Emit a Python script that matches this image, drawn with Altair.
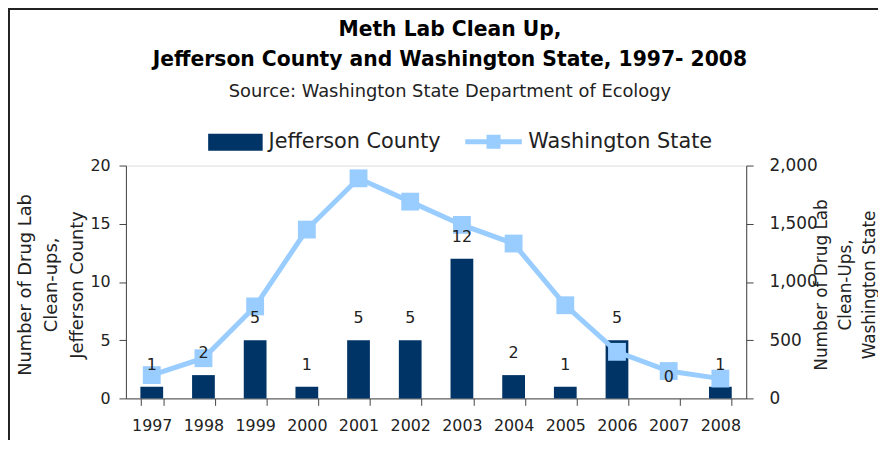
import altair as alt
import pandas as pd

years = ["1997", "1998", "1999", "2000", "2001", "2002", "2003", "2004", "2005", "2006", "2007", "2008"]
jefferson = [1, 2, 5, 1, 5, 5, 12, 2, 1, 5, 0, 1]
washington = [200, 345, 790, 1450, 1890, 1690, 1490, 1330, 800, 400, 235, 170]

df = pd.DataFrame({
    "year": years,
    "jefferson": jefferson,
    "washington": washington,
    "jc": "Jefferson County",
    "ws": "Washington State",
})

FONT = "DejaVu Sans"
BAR = "#003366"
LINE = "#99CCFF"
TXT = "#222222"

x = alt.X(
    "year:O",
    scale=alt.Scale(paddingInner=0.56, paddingOuter=0.28),
    axis=alt.Axis(title=None, labelAngle=0, tickBand="extent", tickSize=7, labelPadding=12,
                  labelFontSize=16, labelFont=FONT, labelColor=TXT,
                  domainColor="#444", tickColor="#444"),
)

base = alt.Chart(df)

bars = base.mark_bar().encode(
    x=x,
    y=alt.Y("jefferson:Q", scale=alt.Scale(domain=[0, 20]),
            axis=alt.Axis(orient="left", values=[0, 5, 10, 15, 20], grid=False, tickSize=7,
                          labelPadding=9, labelFontSize=16, labelFont=FONT, labelColor=TXT,
                          domainColor="#444", tickColor="#444",
                          title=["Number of Drug Lab", "Clean-ups,", "Jefferson County"],
                          titleFont=FONT, titleFontSize=18, titleFontWeight="normal", titleColor=TXT,
                          titleLineHeight=26, titleAngle=-90, titleBaseline="top", titleAlign="center",
                          titleX=-110, titleY=120)),
    fill=alt.Fill("jc:N", scale=alt.Scale(range=[BAR]),
                  legend=alt.Legend(orient="none", legendX=83, legendY=-51, title=None,
                                    symbolType="M-1,-0.31L1,-0.31L1,0.31L-1,0.31Z", symbolSize=3025,
                                    symbolStrokeWidth=0, labelFontSize=21, labelFont=FONT,
                                    labelColor=TXT, labelOffset=6, labelLimit=400)),
)

ws_y = alt.Y("washington:Q", scale=alt.Scale(domain=[0, 2000]),
             axis=alt.Axis(orient="right", values=[0, 500, 1000, 1500, 2000], format=",.0f", grid=False,
                           tickSize=7, labelPadding=16, labelFontSize=17, labelFont=FONT, labelColor=TXT,
                           domainColor="#444", tickColor="#444",
                           title=["Number of Drug Lab", "Clean-Ups,", "Washington State"],
                           titleFont=FONT, titleFontSize=17, titleFontWeight="normal", titleColor=TXT,
                           titleLineHeight=24, titleAngle=-90, titleBaseline="top", titleAlign="center",
                           titleX=68, titleY=120))

line = base.mark_line(strokeWidth=5).encode(
    x=x,
    y=ws_y,
    stroke=alt.Stroke("ws:N", scale=alt.Scale(range=[LINE]),
                      legend=alt.Legend(orient="none", legendX=340, legendY=-55, title=None,
                                        symbolType="M-1,0L1,0M-0.16,-0.16L0.16,-0.16L0.16,0.16L-0.16,0.16Z",
                                        symbolSize=3249, symbolStrokeWidth=5, symbolFillColor=LINE,
                                        labelFontSize=21, labelFont=FONT, labelColor=TXT, labelOffset=4,
                                        labelLimit=400)),
)
squares = base.mark_square(size=324, color=LINE, opacity=1).encode(x=x, y=ws_y)

labels = base.mark_text(dy=-22, fontSize=16, font=FONT, color=TXT, baseline="middle").encode(
    x=x,
    y=alt.Y("jefferson:Q", scale=alt.Scale(domain=[0, 20]), axis=None),
    text="jefferson:Q",
)

frame_df = pd.DataFrame({"k": [0]})
left_border = alt.Chart(frame_df).mark_rule(color="#222", strokeWidth=2).encode(
    x=alt.value(-118), y=alt.value(-159), y2=alt.value(300))
top_border = alt.Chart(frame_df).mark_rule(color="#222", strokeWidth=2).encode(
    x=alt.value(-119), x2=alt.value(780), y=alt.value(-158))

chart = alt.layer(
    bars, alt.layer(line, squares), labels, left_border, top_border
).resolve_scale(y="independent").properties(
    width=626,
    height=235,
    autosize=alt.AutoSizeParams(type="none"),
    padding={"left": 119, "top": 157, "right": 133, "bottom": 40},
    title=alt.Title(
        text=["Meth Lab Clean Up,", "Jefferson County and Washington State, 1997- 2008"],
        subtitle="Source:  Washington State Department of Ecology",
        font=FONT, fontSize=20.5, fontWeight="bold", color="#000", lineHeight=30,
        subtitleFont=FONT, subtitleFontSize=18, subtitleColor=TXT, subtitlePadding=13,
        anchor="middle", frame="group", dx=14, offset=0, dy=95,
    ),
).configure_view(stroke=None).configure(background="white")

chart.save("out.html", embed_options={"renderer": "svg", "actions": False})
